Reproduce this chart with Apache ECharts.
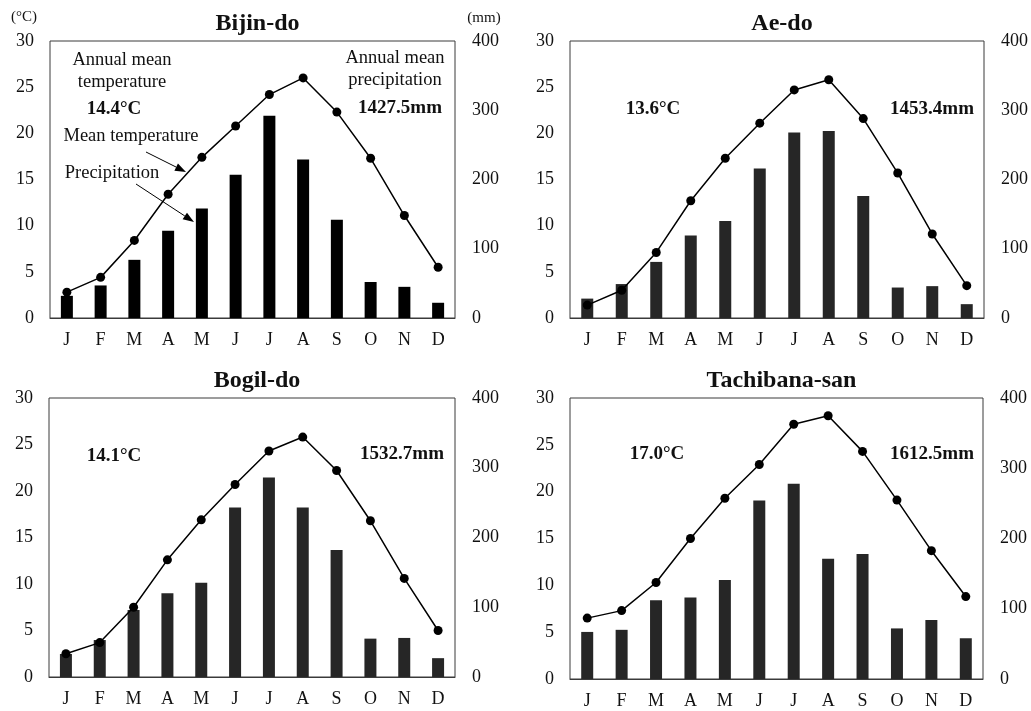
<!DOCTYPE html>
<html lang="en">

<head>
    <meta charset="UTF-8">
    <title>Climate charts</title>
    <script src="https://cdn.jsdelivr.net/npm/echarts@6/dist/echarts.min.js"></script>
    <style>
        html, body { margin: 0; padding: 0; background: #fff; }
        #main { width: 1031px; height: 711px; }
    </style>
</head>

<body>
    <div id="main"></div>
    <script>
        // months and tick values
        var months = ['J', 'F', 'M', 'A', 'M', 'J', 'J', 'A', 'S', 'O', 'N', 'D'];
        var tempTicks = [0, 5, 10, 15, 20, 25, 30];
        var precTicks = [0, 100, 200, 300, 400];

        // station names and annual figures
        var stations = ['Bijin-do', 'Ae-do', 'Bogil-do', 'Tachibana-san'];
        var annualTemp = ['14.4°C', '13.6°C', '14.1°C', '17.0°C'];
        var annualPrec = ['1427.5mm', '1453.4mm', '1532.7mm', '1612.5mm'];

        // monthly mean temperature (°C)
        var tempBijin = [2.8, 4.4, 8.4, 13.4, 17.4, 20.8, 24.2, 26.0, 22.3, 17.3, 11.1, 5.5];
        var tempAe = [1.4, 3.0, 7.1, 12.7, 17.3, 21.1, 24.7, 25.8, 21.6, 15.7, 9.1, 3.5];
        var tempBogil = [2.5, 3.7, 7.5, 12.6, 16.9, 20.7, 24.3, 25.8, 22.2, 16.8, 10.6, 5.0];
        var tempTachi = [6.5, 7.3, 10.3, 15.0, 19.3, 22.9, 27.2, 28.1, 24.3, 19.1, 13.7, 8.8];

        // monthly precipitation (mm)
        var precBijin = [32, 47, 84, 126, 158, 207, 292, 229, 142, 52, 45, 22];
        var precAe = [28, 49, 81, 119, 140, 216, 268, 270, 176, 44, 46, 20];
        var precBogil = [33, 53, 96, 120, 135, 243, 286, 243, 182, 55, 56, 27];
        var precTachi = [67, 70, 112, 116, 141, 254, 278, 171, 178, 72, 84, 58];

        var temps = [tempBijin, tempAe, tempBogil, tempTachi];
        var precs = [precBijin, precAe, precBogil, precTachi];
        var barColors = ['#000000', '#262626', '#262626', '#262626'];

        var font = '"Liberation Serif", "Times New Roman", serif';
        var ink = '#111';

        var grids = [
            { left: 50, top: 41, width: 405, height: 277 },
            { left: 570, top: 41, width: 414, height: 277 },
            { left: 49, top: 398, width: 406, height: 279 },
            { left: 570, top: 398, width: 413, height: 281 }
        ];

        var xAxes = [], yAxes = [], series = [], titles = [];
        grids.forEach(function(g, i) {
            g.show = true;
            g.borderColor = '#3a3a3a';
            g.borderWidth = 1;
            g.containLabel = false;

            xAxes.push({
                type: 'category',
                gridIndex: i,
                data: months,
                axisLine: { show: true, lineStyle: { color: '#3a3a3a' } },
                axisTick: { show: false },
                axisLabel: { color: ink, fontFamily: font, fontSize: 18, margin: 13 }
            });
            yAxes.push({
                type: 'value',
                gridIndex: i,
                position: 'left',
                min: tempTicks[0],
                max: tempTicks[tempTicks.length - 1],
                interval: 5,
                splitLine: { show: false },
                axisLine: { show: false },
                axisTick: { show: false },
                axisLabel: { color: ink, fontFamily: font, fontSize: 18, margin: 16 }
            });
            yAxes.push({
                type: 'value',
                gridIndex: i,
                position: 'right',
                min: precTicks[0],
                max: precTicks[precTicks.length - 1],
                interval: 100,
                splitLine: { show: false },
                axisLine: { show: false },
                axisTick: { show: false },
                axisLabel: { color: ink, fontFamily: font, fontSize: 18, margin: 17 }
            });

            series.push({
                name: 'Precipitation',
                type: 'bar',
                xAxisIndex: i,
                yAxisIndex: i * 2 + 1,
                data: precs[i],
                barWidth: 12,
                itemStyle: { color: barColors[i] },
                z: 2
            });
            series.push({
                name: 'Mean temperature',
                type: 'line',
                xAxisIndex: i,
                yAxisIndex: i * 2,
                data: temps[i],
                symbol: 'circle',
                symbolSize: 9,
                lineStyle: { color: '#000', width: 1.5 },
                itemStyle: { color: '#000' },
                z: 5
            });

            titles.push({
                text: stations[i],
                left: g.left + g.width / 2,
                top: g.top - 34,
                textAlign: 'center',
                textStyle: { fontFamily: font, fontSize: 24, fontWeight: 'bold', color: ink }
            });
        });

        // arrow helper for the callouts
        function arrow(x1, y1, x2, y2) {
            var ang = Math.atan2(y2 - y1, x2 - x1);
            var len = 11, half = 4;
            var bx = x2 - len * Math.cos(ang), by = y2 - len * Math.sin(ang);
            var px = -Math.sin(ang) * half, py = Math.cos(ang) * half;
            return [{
                type: 'line',
                shape: { x1: x1, y1: y1, x2: bx, y2: by },
                style: { stroke: '#000', lineWidth: 1 },
                z: 10
            }, {
                type: 'polygon',
                shape: { points: [[x2, y2], [bx + px, by + py], [bx - px, by - py]] },
                style: { fill: '#000' },
                z: 10
            }];
        }

        function txt(x, y, s, size, bold) {
            return {
                type: 'text',
                x: x,
                y: y,
                style: {
                    text: s,
                    fontFamily: font,
                    fontSize: size,
                    fontWeight: bold ? 'bold' : 'normal',
                    fill: ink,
                    align: 'center',
                    verticalAlign: 'middle',
                    lineHeight: 22
                },
                z: 10
            };
        }

        var graphics = [
            txt(24, 17, '(°C)', 15, false),
            txt(484, 18, '(mm)', 15, false),
            txt(122, 71, 'Annual mean\ntemperature', 18.5, false),
            txt(395, 69, 'Annual mean\nprecipitation', 18.5, false),
            txt(114, 109, annualTemp[0], 19, true),
            txt(400, 108, annualPrec[0], 19, true),
            txt(131, 136, 'Mean temperature', 18.5, false),
            txt(112, 173, 'Precipitation', 18.5, false),
            txt(653, 109, annualTemp[1], 19, true),
            txt(932, 109, annualPrec[1], 19, true),
            txt(114, 456, annualTemp[2], 19, true),
            txt(402, 454, annualPrec[2], 19, true),
            txt(657, 454, annualTemp[3], 19, true),
            txt(932, 454, annualPrec[3], 19, true)
        ];
        graphics = graphics.concat(arrow(146, 152, 186, 172), arrow(136, 184, 194, 222));

        var chart = echarts.init(document.getElementById('main'));
        chart.setOption({
            backgroundColor: '#fff',
            animation: false,
            title: titles,
            grid: grids,
            xAxis: xAxes,
            yAxis: yAxes,
            series: series,
            graphic: graphics
        });
    </script>
</body>

</html>
